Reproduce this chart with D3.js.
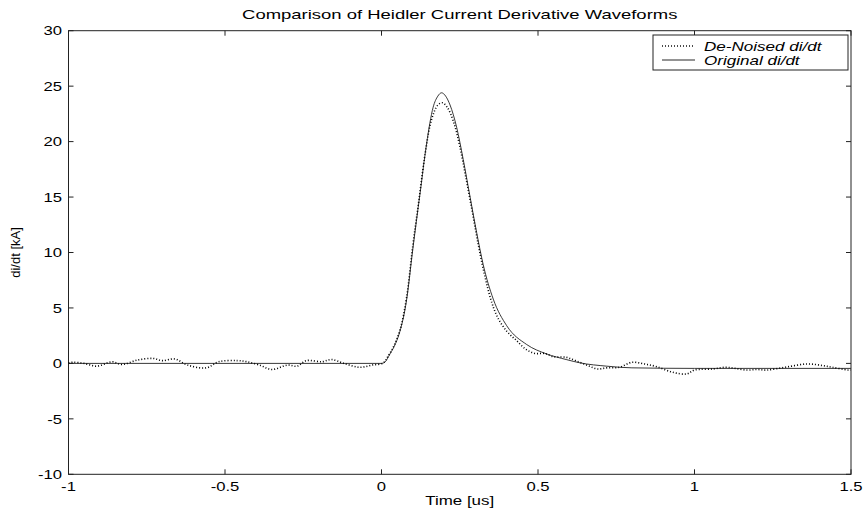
<!DOCTYPE html>
<html><head><meta charset="utf-8">
<script src="https://cdn.jsdelivr.net/npm/d3@7"></script>
<style>body{margin:0;background:#fff}svg{display:block}text{font-family:"Liberation Sans",Arial,Helvetica,sans-serif;fill:#000}</style>
</head><body><svg id="c" width="866" height="509"></svg>
<script>
const title = "Comparison of Heidler Current Derivative Waveforms";
const xLabel = "Time [us]";
const yLabel = "di/dt [kA]";
const seriesNames = ["De-Noised di/dt", "Original di/dt"];
const xTicks = [-1, -0.5, 0, 0.5, 1, 1.5];
const xTickLabels = ["-1", "-0.5", "0", "0.5", "1", "1.5"];
const yTicks = [-10, -5, 0, 5, 10, 15, 20, 25, 30];
const yTickLabels = ["-10", "-5", "0", "5", "10", "15", "20", "25", "30"];

const originalT = [-1, 0, 0.01, 0.027, 0.045, 0.059, 0.08, 0.10, 0.123, 0.144, 0.165, 0.18, 0.192, 0.205, 0.219, 0.24, 0.261, 0.283, 0.304, 0.325, 0.357, 0.40, 0.464, 0.528, 0.59, 0.634, 0.72, 0.8, 1.0, 1.5];
const originalV = [0, 0, 0.1, 0.85, 1.8, 2.9, 5.7, 10.3, 15.3, 19.8, 23.1, 24.1, 24.4, 24.1, 23.3, 21.3, 18.4, 15.0, 11.8, 8.9, 5.8, 3.4, 1.7, 0.85, 0.35, 0.05, -0.25, -0.4, -0.45, -0.45];

const denoisedT = [-1.0, -0.985, -0.95, -0.91, -0.86, -0.83, -0.78, -0.73, -0.70, -0.66, -0.62, -0.56, -0.52, -0.46, -0.43, -0.39, -0.35, -0.30, -0.27, -0.24, -0.19, -0.16, -0.12, -0.07, -0.03, 0.006, 0.02, 0.04, 0.06, 0.08, 0.10, 0.12, 0.14, 0.16, 0.18, 0.195, 0.21, 0.23, 0.25, 0.27, 0.29, 0.31, 0.33, 0.35, 0.37, 0.40, 0.43, 0.46, 0.49, 0.52, 0.55, 0.59, 0.62, 0.66, 0.69, 0.72, 0.76, 0.80, 0.84, 0.88, 0.93, 0.975, 1.0, 1.06, 1.10, 1.13, 1.167, 1.20, 1.23, 1.29, 1.36, 1.41, 1.44, 1.49, 1.5];
const denoisedV = [0.05, 0.1, 0.0, -0.25, 0.15, -0.1, 0.3, 0.45, 0.25, 0.4, -0.15, -0.4, 0.15, 0.25, 0.15, -0.15, -0.55, -0.15, -0.25, 0.25, 0.15, 0.35, 0.0, -0.35, -0.15, 0.05, 0.6, 1.6, 3.1, 5.9, 10.6, 14.8, 19.0, 22.0, 23.3, 23.5, 23.1, 21.8, 19.6, 16.7, 13.7, 10.6, 7.9, 5.7, 4.2, 2.9, 2.1, 1.3, 0.9, 0.9, 0.6, 0.55, 0.25, -0.2, -0.5, -0.4, -0.35, 0.1, -0.05, -0.3, -0.8, -0.95, -0.6, -0.5, -0.35, -0.45, -0.6, -0.55, -0.6, -0.35, -0.05, -0.2, -0.35, -0.6, -0.6];

const L = 68.5, R = 851, T = 30.7, B = 474.3;
const svg = d3.select("#c");
const x = d3.scaleLinear().domain([-1, 1.5]).range([L, R]);
const y = d3.scaleLinear().domain([-10, 30]).range([B, T]);

// horizontally stretched text, as in the reference
function stretch(sel, k) {
  sel.each(function() {
    const w = this.getComputedTextLength();
    d3.select(this).attr("textLength", w * k).attr("lengthAdjust", "spacingAndGlyphs");
  });
  return sel;
}

const axColor = "#222";
svg.append("rect").attr("x", L).attr("y", T).attr("width", R - L).attr("height", B - T)
  .attr("fill", "none").attr("stroke", axColor).attr("stroke-width", 1);

const g = svg.append("g");
const tl = 5;
g.selectAll(".xt").data(xTicks).join("g").each(function(d, i) {
  const s = d3.select(this), px = x(d);
  s.append("line").attr("x1", px).attr("x2", px).attr("y1", B).attr("y2", B - tl).attr("stroke", axColor);
  s.append("line").attr("x1", px).attr("x2", px).attr("y1", T).attr("y2", T + tl).attr("stroke", axColor);
  stretch(s.append("text").attr("x", px).attr("y", 491).attr("text-anchor", "middle").attr("font-size", 13).text(xTickLabels[i]), 1.28);
});
g.selectAll(".yt").data(yTicks).join("g").each(function(d, i) {
  const s = d3.select(this), py = y(d);
  s.append("line").attr("x1", L).attr("x2", L + tl).attr("y1", py).attr("y2", py).attr("stroke", axColor);
  s.append("line").attr("x1", R).attr("x2", R - tl).attr("y1", py).attr("y2", py).attr("stroke", axColor);
  stretch(s.append("text").attr("x", 62).attr("y", py).attr("dy", "0.36em").attr("text-anchor", "end").attr("font-size", 13).text(yTickLabels[i]), 1.28);
});

const origData = originalT.map((t, i) => [t, originalV[i]]);
const denData = denoisedT.map((t, i) => [t, denoisedV[i]]);
const line = d3.line().x(d => x(d[0])).y(d => y(d[1])).curve(d3.curveMonotoneX);
const line2 = d3.line().x(d => x(d[0])).y(d => y(d[1])).curve(d3.curveCatmullRom.alpha(0.5));

svg.append("path").attr("d", line(origData)).attr("fill", "none").attr("stroke", "#222").attr("stroke-width", 0.9);
svg.append("path").attr("d", line2(denData)).attr("fill", "none").attr("stroke", "#000").attr("stroke-width", 1.6).attr("stroke-dasharray", "1,2");

stretch(svg.append("text").attr("x", (L + R) / 2).attr("y", 19).attr("text-anchor", "middle").attr("font-size", 13).text(title), 1.42);
stretch(svg.append("text").attr("x", (L + R) / 2).attr("y", 505).attr("text-anchor", "middle").attr("font-size", 13).text(xLabel), 1.3);
svg.append("text").attr("transform", `translate(19.5,${(T + B) / 2}) rotate(-90)`).attr("text-anchor", "middle").attr("font-size", 13).text(yLabel);

const lg = svg.append("g");
lg.append("rect").attr("x", 653).attr("y", 35).attr("width", 195).attr("height", 35).attr("fill", "#fff").attr("stroke", axColor);
const styles = [{w: 1.6, dash: "1,2"}, {w: 0.9, dash: null}];
seriesNames.forEach((n, i) => {
  const ly = 46 + i * 14;
  const ln = lg.append("line").attr("x1", 662).attr("x2", 695).attr("y1", ly).attr("y2", ly).attr("stroke", "#111").attr("stroke-width", styles[i].w);
  if (styles[i].dash) ln.attr("stroke-dasharray", styles[i].dash);
  stretch(lg.append("text").attr("x", 704).attr("y", ly).attr("dy", "0.36em").attr("font-size", 13).attr("font-style", "italic").text(n), 1.31);
});
</script></body></html>
